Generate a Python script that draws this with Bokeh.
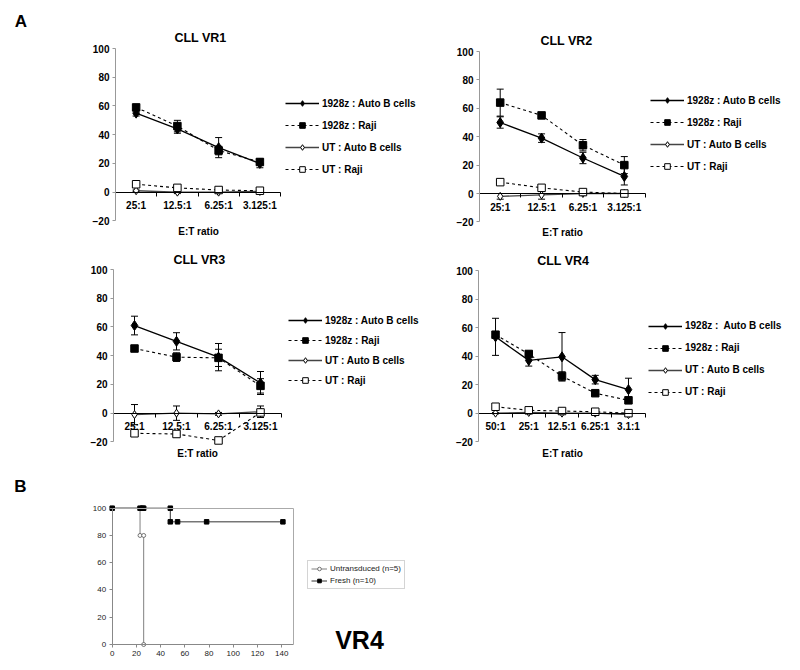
import numpy as np
from bokeh.plotting import figure
from bokeh.models import (Range1d, FixedTicker, Whisker, TeeHead, ColumnDataSource,
                          Legend, LegendItem, Label, LinearAxis)
from bokeh.layouts import column, row
from bokeh.embed import file_html
from bokeh.resources import INLINE

FONT = "Liberation Sans"

# ---------------- data ----------------
et_vr1 = ["25:1", "12.5:1", "6.25:1", "3.125:1"]
vr1_auto = [55, 44, 31, 20]
vr1_auto_err = [2, 3, 7, 3]
vr1_raji = [59, 46, 29, 21]
vr1_raji_err = [1.5, 4, 3, 2]
vr1_ut_auto = [1, 0, 0, 0.5]
vr1_ut_auto_err = [0.5, 1, 0.5, 0.5]
vr1_ut_raji = [5.5, 3, 1.5, 1]
vr1_ut_raji_err = [0.5, 0.5, 0.5, 0.5]

et_vr2 = ["25:1", "12.5:1", "6.25:1", "3.125:1"]
vr2_auto = [50, 39, 25, 12]
vr2_auto_err = [4, 3, 4, 6]
vr2_raji = [64, 55, 34, 20]
vr2_raji_err = [9.5, 1, 4, 6]
vr2_ut_auto = [-2, -1, 0, 0]
vr2_ut_auto_err = [2, 3, 1, 1]
vr2_ut_raji = [8, 4, 1, 0]
vr2_ut_raji_err = [1, 0.5, 0.5, 0.5]

et_vr3 = ["25:1", "12.5:1", "6.25:1", "3.125:1"]
vr3_auto = [61, 50, 39, 21]
vr3_auto_err = [6.5, 6, 9.5, 8]
vr3_raji = [45, 39, 38.5, 19]
vr3_raji_err = [1, 3, 6, 5]
vr3_ut_auto = [-1, 0, -0.5, 1]
vr3_ut_auto_err = [7, 5, 1, 4]
vr3_ut_raji = [-14, -14.5, -19, 0.5]
vr3_ut_raji_err = [2, 2, 1.5, 2]

et_vr4 = ["50:1", "25:1", "12.5:1", "6.25:1", "3.1:1"]
vr4_auto = [53.5, 37, 39.5, 23.5, 16.5]
vr4_auto_err = [13, 4, 17, 3, 8]
vr4_raji = [55, 41.5, 26, 14, 9]
vr4_raji_err = [2, 2, 3, 1, 1]
vr4_ut_auto = [0, 0.5, 0, 0, -1]
vr4_ut_auto_err = [0.5, 0.5, 0.5, 0.5, 0.5]
vr4_ut_raji = [4.5, 2, 1.5, 1, 0]
vr4_ut_raji_err = [1, 0.5, 1, 1, 0.5]

labels_std = ["1928z : Auto B cells", "1928z : Raji", "UT : Auto B cells", "UT : Raji"]
labels_vr4 = ["1928z :  Auto B cells", "1928z : Raji", "UT : Auto B cells", "UT : Raji"]
y_ticks_a = [-20, 0, 20, 40, 60, 80, 100]

days_untr = [0, 23, 23, 26, 26]
surv_untr = [100, 100, 80, 80, 0]
days_fresh = [0, 23, 25, 26, 48, 48, 54, 78, 141]
surv_fresh = [100, 100, 100, 100, 100, 90, 90, 90, 90]
x_ticks_b = [0, 20, 40, 60, 80, 100, 120, 140]
y_ticks_b = [0, 20, 40, 60, 80, 100]

# ---------------- styles ----------------
STYLES = [
    dict(lc="black", lw=1.3, dash="solid", marker="diamond", size=10, fill="black"),
    dict(lc="black", lw=1.1, dash="3 3", marker="square", size=7.5, fill="black"),
    dict(lc="#444444", lw=1.3, dash="solid", marker="diamond", size=8, fill="white"),
    dict(lc="black", lw=1.1, dash="3 3", marker="square", size=7.5, fill="white"),
]


def ranges_for(fig_box, area, xlim, ylim):
    """Ranges so that the data limits xlim/ylim land on the page rectangle 'area'."""
    fx, fy, fw, fh = fig_box
    ax0, ax1, ay_top, ay_bot = area
    xmin, xmax = xlim
    ymin, ymax = ylim
    kx = (ax1 - ax0) / (xmax - xmin)
    ky = (ay_bot - ay_top) / (ymax - ymin)
    xr = Range1d(xmin - (ax0 - fx) / kx, xmin + (fx + fw - ax0) / kx)
    yr = Range1d(ymin - (fy + fh - ay_bot) / ky, ymax + (ay_top - fy) / ky)
    return xr, yr


def new_fig(fig_box, area, xlim, ylim):
    xr, yr = ranges_for(fig_box, area, xlim, ylim)
    p = figure(width=fig_box[2], height=fig_box[3], x_range=xr, y_range=yr,
               output_backend="svg", toolbar_location=None,
               min_border_left=0, min_border_right=0, min_border_top=0, min_border_bottom=0)
    p.grid.visible = False
    p.outline_line_color = None
    return p


def text_at(p, fig_box, px, py, text, size, bold=True, color="black"):
    fx, fy, fw, fh = fig_box
    p.add_layout(Label(x=px - fx, y=fy + fh - py, x_units="screen", y_units="screen", text=text,
                       text_align="center", text_baseline="middle", text_font=FONT,
                       text_font_style="bold" if bold else "normal", text_font_size=size,
                       text_color=color))


def cyto_panel(title, cats, series, labels, fig_box, area, title_xy, et_xy, leg_x, leg_top, leg_spacing):
    n = len(cats)
    p = new_fig(fig_box, area, (0, n), (-20, 100))
    fx, fy, fw, fh = fig_box
    xs = [i + 0.5 for i in range(n)]
    items = []
    for (vals, errs), lab, st in zip(series, labels, STYLES):
        src = ColumnDataSource(dict(
            x=xs, y=vals,
            lo=[v - e for v, e in zip(vals, errs)],
            hi=[v + e for v, e in zip(vals, errs)]))
        wk = Whisker(source=src, base="x", upper="hi", lower="lo", line_color="black", line_width=1,
                     upper_head=TeeHead(size=7, line_color="black", line_width=1),
                     lower_head=TeeHead(size=7, line_color="black", line_width=1))
        p.add_layout(wk)
        ln = p.line("x", "y", source=src, line_color=st["lc"], line_width=st["lw"], line_dash=st["dash"])
        mk = p.scatter("x", "y", source=src, marker=st["marker"], size=st["size"],
                       fill_color=st["fill"], line_color="black", line_width=1)
        items.append(LegendItem(label=lab, renderers=[ln, mk]))

    xa = p.xaxis[0]
    xa.fixed_location = 0
    xa.bounds = (0, n)
    xa.ticker = FixedTicker(ticks=xs, minor_ticks=list(range(n + 1)))
    xa.major_label_overrides = {x: c for x, c in zip(xs, cats)}
    xa.major_tick_line_color = None
    xa.major_tick_out = 0
    xa.major_tick_in = 0
    xa.minor_tick_out = 4
    xa.minor_tick_in = 0
    xa.minor_tick_line_color = "black"
    xa.axis_line_color = "black"
    xa.major_label_text_font = FONT
    xa.major_label_text_font_style = "bold"
    xa.major_label_text_font_size = "10px"
    xa.major_label_text_color = "black"
    xa.major_label_standoff = 4

    ya = p.yaxis[0]
    ya.fixed_location = 0
    ya.bounds = (-20, 100)
    ya.ticker = FixedTicker(ticks=y_ticks_a)
    ya.axis_line_color = "#999999"
    ya.major_tick_line_color = "#999999"
    ya.major_tick_out = 3
    ya.major_tick_in = 0
    ya.minor_tick_line_color = None
    ya.major_label_text_font = FONT
    ya.major_label_text_font_style = "bold"
    ya.major_label_text_font_size = "10px"
    ya.major_label_text_color = "black"
    ya.major_label_standoff = 3

    text_at(p, fig_box, title_xy[0], title_xy[1], title, "12.5px")
    text_at(p, fig_box, et_xy[0], et_xy[1], "E:T ratio", "10px")

    lh = 14
    leg_h = 4 * lh + 3 * leg_spacing
    leg = Legend(items=items, location=(leg_x - fx, fy + fh - (leg_top + leg_h)),
                 orientation="vertical", glyph_width=34,
                 glyph_height=lh, label_height=lh, spacing=leg_spacing, padding=0, margin=0,
                 border_line_color=None, background_fill_alpha=0, label_text_font=FONT,
                 label_text_font_style="bold", label_text_font_size="10px",
                 label_text_color="black", label_standoff=3)
    p.add_layout(leg)
    return p


BOX1 = (0, 0, 430, 240)
BOX2 = (430, 0, 370, 240)
BOX3 = (0, 240, 430, 230)
BOX4 = (430, 240, 370, 230)
BOXB = (0, 470, 800, 198)

f1 = cyto_panel("CLL VR1", et_vr1,
                [(vr1_auto, vr1_auto_err), (vr1_raji, vr1_raji_err),
                 (vr1_ut_auto, vr1_ut_auto_err), (vr1_ut_raji, vr1_ut_raji_err)],
                labels_std, BOX1, (115, 280, 48, 220.4), (200, 37.5), (198, 231), 285, 96, 8)
f2 = cyto_panel("CLL VR2", et_vr2,
                [(vr2_auto, vr2_auto_err), (vr2_raji, vr2_raji_err),
                 (vr2_ut_auto, vr2_ut_auto_err), (vr2_ut_raji, vr2_ut_raji_err)],
                labels_std, BOX2, (479, 644.5, 51, 221.4), (566, 40.3), (562, 232), 650, 93, 8)
f3 = cyto_panel("CLL VR3", et_vr3,
                [(vr3_auto, vr3_auto_err), (vr3_raji, vr3_raji_err),
                 (vr3_ut_auto, vr3_ut_auto_err), (vr3_ut_raji, vr3_ut_raji_err)],
                labels_std, BOX3, (113, 281, 269, 441.4), (199, 259.3), (197, 453.3), 288, 313, 6)
f4 = cyto_panel("CLL VR4", et_vr4,
                [(vr4_auto, vr4_auto_err), (vr4_raji, vr4_raji_err),
                 (vr4_ut_auto, vr4_ut_auto_err), (vr4_ut_raji, vr4_ut_raji_err)],
                labels_vr4, BOX4, (478.4, 644.6, 270, 441.2), (562.7, 260), (562, 453), 648, 318.7, 8)

text_at(f1, BOX1, 20.5, 21, "A", "17px")

# ---------------- panel B ----------------
fb = new_fig(BOXB, (111.7, 293.3, 507.7, 644), (0, 150), (0, 100))
r_u_l = fb.line(days_untr, surv_untr, line_color="#808080", line_width=1)
r_u_m = fb.scatter(days_untr, surv_untr, marker="circle", size=4, fill_color="white",
                   line_color="#555555", line_width=0.8)
r_f_l = fb.line(days_fresh, surv_fresh, line_color="#333333", line_width=1)
r_f_m = fb.scatter(days_fresh, surv_fresh, marker="square", size=4.5, fill_color="black",
                   line_color="black")

bx = fb.xaxis[0]
bx.fixed_location = 0
bx.bounds = (0, 150)
by = fb.yaxis[0]
by.fixed_location = 0
by.bounds = (0, 100)
for ax, tk in ((bx, x_ticks_b), (by, y_ticks_b)):
    ax.ticker = FixedTicker(ticks=tk)
    ax.axis_line_color = "#888888"
    ax.major_tick_line_color = "#888888"
    ax.major_tick_out = 3
    ax.major_tick_in = 0
    ax.minor_tick_line_color = None
    ax.major_label_text_font = FONT
    ax.major_label_text_font_size = "8px"
    ax.major_label_text_color = "#222222"
    ax.major_label_standoff = 3

top_ax = LinearAxis(fixed_location=100, bounds=(0, 150), ticker=FixedTicker(ticks=[]),
                    axis_line_color="#aaaaaa", major_tick_line_color=None, minor_tick_line_color=None)
right_ax = LinearAxis(fixed_location=150, bounds=(0, 100), ticker=FixedTicker(ticks=[]),
                      axis_line_color="#aaaaaa", major_tick_line_color=None, minor_tick_line_color=None)
fb.add_layout(top_ax, "above")
fb.add_layout(right_ax, "right")

legb = Legend(items=[LegendItem(label="Untransduced (n=5)", renderers=[r_u_l, r_u_m]),
                     LegendItem(label="Fresh (n=10)", renderers=[r_f_l, r_f_m])],
              location=(307 - BOXB[0], BOXB[1] + BOXB[3] - 589), glyph_width=16, glyph_height=9,
              label_height=9, spacing=3, padding=3, margin=0, border_line_color="#aaaaaa",
              label_text_font=FONT, label_text_font_size="8px", label_text_color="#222222",
              label_standoff=3)
fb.add_layout(legb)
text_at(fb, BOXB, 20, 486, "B", "17px")
text_at(fb, BOXB, 359, 639, "VR4", "25px")

layout = column(row(f1, f2), row(f3, f4), fb)
open("out.html", "w").write(file_html(layout, INLINE))
